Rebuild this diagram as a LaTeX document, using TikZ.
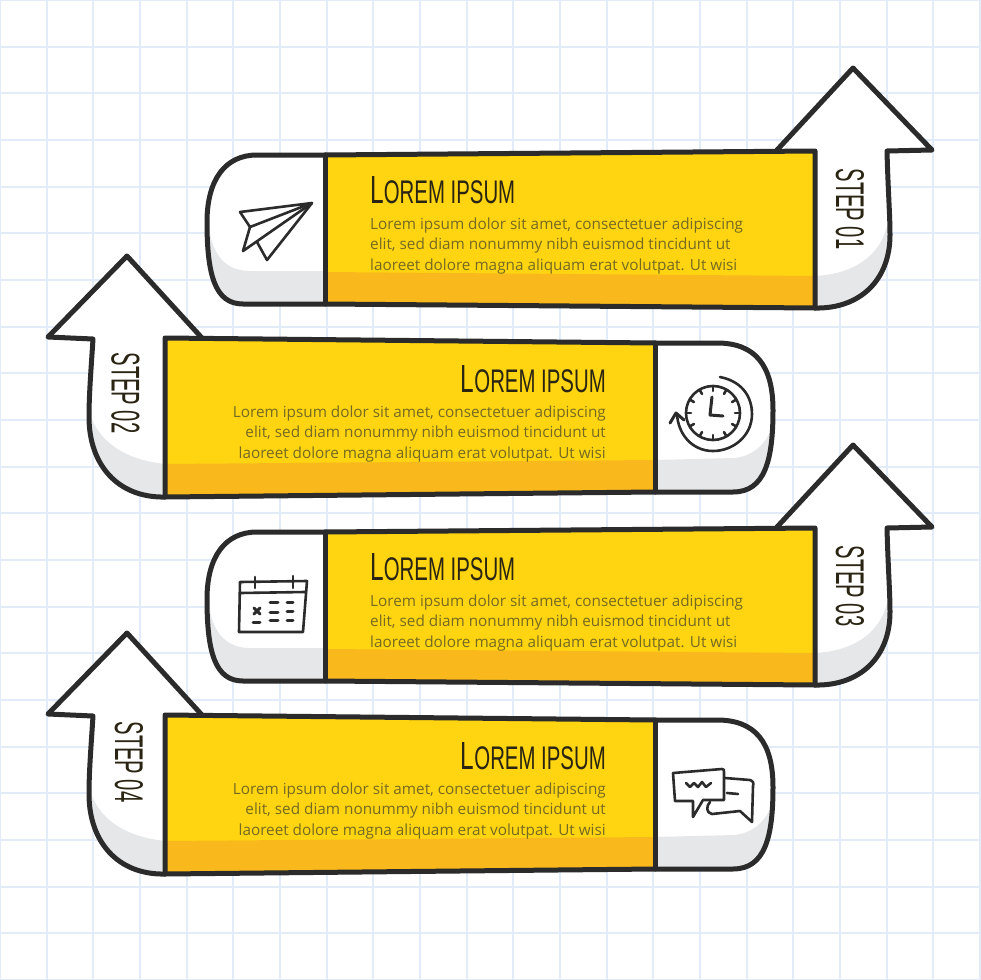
\documentclass[tikz,border=0pt]{standalone}
\usepackage{fontspec}
\usepackage{graphicx}
\usetikzlibrary{calc}
\setmainfont{Open Sans}
\newfontfamily\headfont{Liberation Sans}
\definecolor{gridblue}{HTML}{E1ECF8}
\definecolor{inkline}{HTML}{2B2B2B}
\definecolor{bandyellow}{HTML}{FFD410}
\definecolor{bandshade}{HTML}{F9B91C}
\definecolor{softgrey}{HTML}{E6E7E9}
\definecolor{bodyink}{HTML}{756A22}
\definecolor{headink}{HTML}{2A2412}
\tikzset{
  gridline/.style={draw=gridblue,line width=2.2pt},
  outline/.style={draw=inkline,line width=5pt,line join=round,line cap=round},
  icon/.style={draw=inkline,line width=2.6pt,line join=round,line cap=round},
  iconthick/.style={draw=inkline,line width=3pt,line cap=round},
  title/.style={inner sep=0pt,text=headink},
  bodytext/.style={inner sep=0pt,text=bodyink,font=\fontsize{15.3}{20.3}\selectfont},
  steptext/.style={inner sep=0pt,text=headink}
}
\newcommand{\headtext}{\headfont\resizebox{145pt}{27pt}{{\fontsize{12}{12}\selectfont L}OREM IPSUM}}
\newcommand{\steplabel}[1]{\headfont\resizebox{81pt}{28pt}{#1}}
% Block with arrow on the right and rounded end on the left
\newcommand{\blockright}{%
  \fill[white] (325,155) -- (257,155) .. controls (225,155) and (207,180) .. (207,222)
     .. controls (207,275) and (215,304) .. (243,304) -- (325,304) -- cycle;
  \fill[softgrey] (209,228) .. controls (213,258) and (228,271) .. (250,271) -- (325,271) -- (325,304) -- (243,304)
     .. controls (215,304) and (207,275) .. (209,228) -- cycle;
  \fill[white] (815,151) -- (777,150) -- (853,68) -- (932,150) -- (887,151)
     .. controls (888,190) and (890,215) .. (890,235) .. controls (890,280) and (860,309) .. (815,310) -- cycle;
  \fill[softgrey] (815,276) .. controls (855,274) and (880,255) .. (887,226)
     .. controls (890,226) and (890,230) .. (890,235) .. controls (890,280) and (860,309) .. (815,310) -- cycle;
  \fill[bandyellow] (325,155) -- (815,151) -- (815,308) -- (325,304) -- cycle;
  \fill[bandshade] (325,272) -- (815,276) -- (815,308) -- (325,304) -- cycle;
  \draw[outline] (325,155) -- (257,155) .. controls (225,155) and (207,180) .. (207,222)
     .. controls (207,275) and (215,304) .. (243,304) -- (325,304) -- (815,308)
     .. controls (860,309) and (890,280) .. (890,235) .. controls (890,215) and (888,190) .. (887,151)
     -- (932,150) -- (853,68) -- (777,150);
  \draw[outline] (325,155) -- (815,151) -- (815,308);
  \draw[outline] (325,155) -- (325,304);
}
% Block with arrow on the left and rounded end on the right
\newcommand{\blockleft}{%
  \fill[white] (655,343) -- (717,343) .. controls (755,343) and (773,365) .. (773,410)
     .. controls (773,460) and (765,492) .. (733,492) -- (655,492) -- cycle;
  \fill[softgrey] (655,460) -- (735,458) .. controls (752,456) and (764,446) .. (771,430)
     .. controls (771,465) and (763,492) .. (733,492) -- (655,492) -- cycle;
  \fill[white] (165,338) -- (202,338) -- (127,256) -- (48,337) -- (93,339)
     .. controls (91,370) and (89,395) .. (89,417) .. controls (89,465) and (118,498) .. (165,499) -- cycle;
  \fill[softgrey] (165,464) .. controls (128,460) and (102,445) .. (91,417)
     .. controls (89,417) and (89,417) .. (89,417) .. controls (89,465) and (118,498) .. (165,499) -- cycle;
  \fill[bandyellow] (165,338) -- (655,343) -- (655,492) -- (165,497) -- cycle;
  \fill[bandshade] (165,464) -- (655,460) -- (655,492) -- (165,497) -- cycle;
  \draw[outline] (655,343) -- (717,343) .. controls (755,343) and (773,365) .. (773,410)
     .. controls (773,460) and (765,492) .. (733,492) -- (655,492) -- (165,497)
     .. controls (118,498) and (89,465) .. (89,417) .. controls (89,395) and (91,370) .. (93,339)
     -- (48,337) -- (127,256) -- (202,338);
  \draw[outline] (655,343) -- (165,338) -- (165,497);
  \draw[outline] (655,343) -- (655,492);
}
\begin{document}
\begin{tikzpicture}[x=1pt,y=-1pt]
\useasboundingbox (0,0) rectangle (980,980);
\fill[white] (0,0) rectangle (980,980);
\foreach \k in {0,...,21} {
  \draw[gridline] ({46.667*\k},0) -- ({46.667*\k},980);
  \draw[gridline] (0,{46.667*\k}) -- (980,{46.667*\k});
}

% ---------- Step 01
\blockright
\node[title,anchor=west] (titleA) at (370,190.5) {\headtext};
\node[bodytext,anchor=west,align=left] (bodyA) at (370,246) {Lorem ipsum dolor sit amet, consectetuer adipiscing\\elit, sed diam nonummy nibh euismod tincidunt ut\\laoreet dolore magna aliquam erat volutpat. Ut wisi};
\node[steptext,rotate=-90] (stepA) at (850,209) {\steplabel{STEP 01}};
\draw[icon] (312,203) -- (240,212) -- (250,227) -- cycle;
\draw[icon] (250,227) -- (243,251) -- (312,203);
\draw[icon] (257,242) -- (267,260) -- (312,203);

% ---------- Step 02
\blockleft
\node[title,anchor=east] (titleB) at (606,379) {\headtext};
\node[bodytext,anchor=east,align=right] (bodyB) at (606,434) {Lorem ipsum dolor sit amet, consectetuer adipiscing\\elit, sed diam nonummy nibh euismod tincidunt ut\\laoreet dolore magna aliquam erat volutpat. Ut wisi};
\node[steptext,rotate=-90] (stepB) at (125.5,393) {\steplabel{STEP 02}};
\draw[icon] (713,413) circle (27);
\foreach \a in {0,30,...,330} {
  \draw[icon] ($(713,413)+(\a:27)$) -- ($(713,413)+(\a:22)$);
}
\draw[icon,line width=3pt] (712,397) -- (710,415) -- (723,416);
\draw[icon] (720,377) .. controls (745,382) and (752,400) .. (752,414)
   .. controls (752,436) and (733,451) .. (713,451) .. controls (692,451) and (678,434) .. (677,414);
\draw[icon,line width=3pt] (670,423) -- (676,413) -- (684,420);

% ---------- Step 03
\begin{scope}[shift={(0,377)}]
\blockright
\node[title,anchor=west] (titleC) at (370,190.5) {\headtext};
\node[bodytext,anchor=west,align=left] (bodyC) at (370,246) {Lorem ipsum dolor sit amet, consectetuer adipiscing\\elit, sed diam nonummy nibh euismod tincidunt ut\\laoreet dolore magna aliquam erat volutpat. Ut wisi};
\node[steptext,rotate=-90] (stepC) at (850,209) {\steplabel{STEP 03}};
\end{scope}
\draw[icon] (240,582) -- (307,581) -- (303,632) -- (239,632) -- cycle;
\draw[icon] (240,593) -- (305,592);
\draw[icon] (255,577) -- (255,588);
\draw[icon] (293,576) -- (293,588);
\draw[iconthick] (254,608) -- (260,614);
\draw[iconthick] (260,608) -- (254,614);
\foreach \xa/\xb/\yy in {270/278/602,287/293/602,270/278/612,287/293/611,253/260/622,270/278/620,287/293/620} {
  \draw[iconthick] (\xa,\yy) -- (\xb,\yy);
}

% ---------- Step 04
\begin{scope}[shift={(0,377)}]
\blockleft
\node[title,anchor=east] (titleD) at (606,379) {\headtext};
\node[bodytext,anchor=east,align=right] (bodyD) at (606,434) {Lorem ipsum dolor sit amet, consectetuer adipiscing\\elit, sed diam nonummy nibh euismod tincidunt ut\\laoreet dolore magna aliquam erat volutpat. Ut wisi};
\node[steptext,rotate=-90] (stepD) at (129,385) {\steplabel{STEP 04}};
\end{scope}
\draw[icon] (673,773) -- (722,769) .. controls (724,769) and (724,770) .. (724,772)
   -- (724,800) -- (703,800) -- (693,817) -- (693,801) -- (675,801) -- cycle;
\draw[icon] (725,778) -- (750,780) .. controls (753,781) and (754,783) .. (753,786)
   -- (752,822) -- (740,811) -- (712,814) .. controls (706,813) and (706,806) .. (710,802);
\draw[icon] (727,793) -- (738,794);
\draw[icon] (686,783) -- (690,787) -- (694,783) -- (698,787) -- (702,782) -- (706,787) -- (711,783);
\end{tikzpicture}
\end{document}
